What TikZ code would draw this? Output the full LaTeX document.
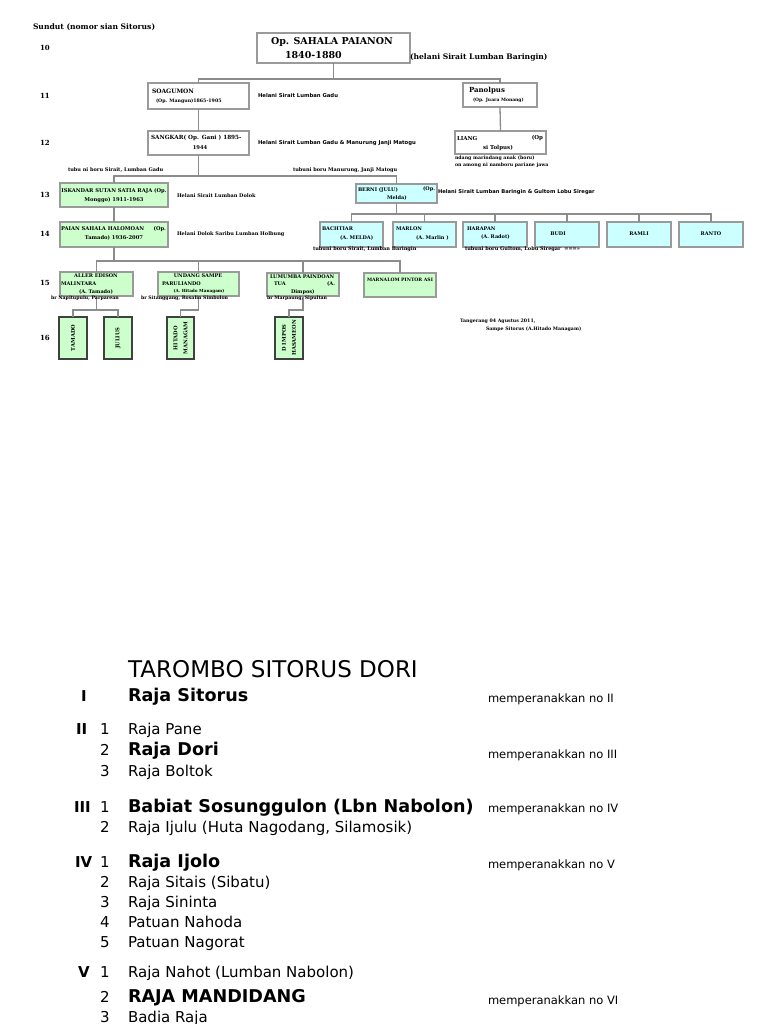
\documentclass[tikz,border=0pt]{standalone}
\usepackage{fontspec}
\setmainfont{DejaVu Serif}
\newfontfamily\lsans{DejaVu Sans}
\usetikzlibrary{calc}
\definecolor{bxgreen}{HTML}{CCFFCC}
\definecolor{bxcyan}{HTML}{CCFFFF}
\definecolor{bxline}{HTML}{9A9A9A}
\definecolor{cnline}{HTML}{8C8C8C}
\newcommand\fsz[1]{\fontsize{#1}{#1}\selectfont}
\begin{document}
\begin{tikzpicture}[x=1pt,y=-1pt,
  box/.style={draw=bxline, line width=1.4pt, inner sep=0pt, outer sep=0pt, anchor=north west, fill=white},
  gbox/.style={box, fill=bxgreen},
  cbox/.style={box, fill=bxcyan},
  vbox/.style={box, fill=bxgreen, draw=black!75, line width=1.3pt},
  conn/.style={draw=cnline, line width=1.3pt},
  t/.style={inner sep=0pt, outer sep=0pt, anchor=west, font=\bfseries\fsz{5}},
  tc/.style={t, anchor=center},
  tr/.style={t, anchor=east},
  hs/.style={t, font=\lsans\bfseries\fsz{5.3}},
  rn/.style={t, font=\bfseries\fsz{7}},
  lreg/.style={anchor=base west, inner sep=0pt, outer sep=0pt, font=\lsans\fsz{15}},
  lbold/.style={anchor=base west, inner sep=0pt, outer sep=0pt, font=\lsans\bfseries\fsz{17.6}},
  lrom/.style={anchor=base west, inner sep=0pt, outer sep=0pt, font=\lsans\bfseries\fsz{15}},
  lmem/.style={anchor=base west, inner sep=0pt, outer sep=0pt, font=\lsans\fsz{11.5}},
]
\useasboundingbox (0,0) rectangle (768,1024);

% ---------- header and generation numbers
\node[t, font=\bfseries\fsz{7.6}] (sundut) at (33,27) {Sundut (nomor sian Sitorus)};
\node[rn] (g10) at (40,48) {10};
\node[rn] (g11) at (40,96) {11};
\node[rn] (g12) at (40,143) {12};
\node[rn] (g13) at (40,195) {13};
\node[rn] (g14) at (40,234) {14};
\node[rn] (g15) at (40,283) {15};
\node[rn] (g16) at (40,338) {16};

% ---------- boxes
\node[box, minimum width=153pt, minimum height=30pt] (op) at (257,33) {};
\node[box, minimum width=101pt, minimum height=26pt] (soag) at (148,83) {};
\node[box, minimum width=74pt, minimum height=24pt] (pan) at (463,83) {};
\node[box, minimum width=101pt, minimum height=24pt] (sang) at (148,131) {};
\node[box, minimum width=91pt, minimum height=23pt] (liang) at (455,131) {};
\node[gbox, minimum width=108pt, minimum height=24pt] (isk) at (60,183) {};
\node[cbox, minimum width=81pt, minimum height=19pt] (berni) at (356,184) {};
\node[gbox, minimum width=108pt, minimum height=25pt] (paian) at (60,222) {};
\node[cbox, minimum width=63pt, minimum height=25pt] (bach) at (320,222) {};
\node[cbox, minimum width=63pt, minimum height=25pt] (marlon) at (393,222) {};
\node[cbox, minimum width=64pt, minimum height=25pt] (harapan) at (463,222) {};
\node[cbox, minimum width=64pt, minimum height=25pt] (budi) at (535,222) {};
\node[cbox, minimum width=64pt, minimum height=25pt] (ramli) at (607,222) {};
\node[cbox, minimum width=64pt, minimum height=25pt] (ranto) at (679,222) {};
\node[gbox, minimum width=73pt, minimum height=24pt] (aller) at (60,272) {};
\node[gbox, minimum width=81pt, minimum height=24pt] (undang) at (158,272) {};
\node[gbox, minimum width=72pt, minimum height=23pt] (lumumba) at (267,273) {};
\node[gbox, minimum width=72pt, minimum height=24pt] (marnalom) at (364,273) {};
\node[vbox, minimum width=28pt, minimum height=42pt] (tamado) at (59,317) {};
\node[vbox, minimum width=28pt, minimum height=42pt] (julius) at (104,317) {};
\node[vbox, minimum width=27pt, minimum height=42pt] (hitado) at (167,317) {};
\node[vbox, minimum width=28pt, minimum height=42pt] (dimpos) at (275,317) {};

% ---------- connectors
\coordinate (b10) at (338,79);
\draw[conn] (op.south) -- (op.south|-b10);
\draw[conn] (soag.north) |- (b10) -| (pan.north);
\draw[conn] (soag.south) -- (sang.north);
\draw[conn] (pan.south) -- (liang.north);
\coordinate (b12) at (203,176);
\draw[conn] (sang.south) -- (sang.south|-b12);
\draw[conn] (isk.north) |- (b12) -| (berni.north);
\draw[conn] (isk.south) -- (paian.north);
\coordinate (b14) at (396,214);
\draw[conn] (berni.south) -- (berni.south|-b14);
\draw[conn] (bach.north) |- (b14) -| (ranto.north);
\draw[conn] (marlon.north) -- (marlon.north|-b14);
\draw[conn] (harapan.north) -- (harapan.north|-b14);
\draw[conn] (budi.north) -- (budi.north|-b14);
\draw[conn] (ramli.north) -- (ramli.north|-b14);
\coordinate (b15) at (114,261);
\draw[conn] (paian.south) -- (paian.south|-b15);
\draw[conn] (aller.north) |- (b15) -| (marnalom.north);
\draw[conn] (undang.north) -- (undang.north|-b15);
\draw[conn] (lumumba.north) -- (lumumba.north|-b15);
\coordinate (b16) at (96,310);
\draw[conn] (aller.south) -- (aller.south|-b16);
\draw[conn] (tamado.north) |- (b16) -| (julius.north);
\draw[conn] (undang.south) -- ++(0,14) -| (hitado.north);
\draw[conn] (lumumba.south) -- ++(0,14) -| (dimpos.north);

% ---------- texts in and around boxes
\node[t, font=\bfseries\fsz{9.5}] (opt1) at (271,42) {Op. SAHALA PAIANON};
\node[t, font=\bfseries\fsz{9.5}] (opt2) at (285,55) {1840-1880};
\node[t, font=\bfseries\fsz{7.6}] (opw) at (410,57) {(helani Sirait Lumban Baringin)};

\node[t, font=\bfseries\fsz{6}] (soagt1) at (152,91) {SOAGUMON};
\node[t, font=\bfseries\fsz{4.7}] (soagt2) at (156,101) {(Op. Mangun)1865-1905};
\node[hs] (soagw) at (258,96) {Helani Sirait Lumban Gadu};

\node[t, font=\bfseries\fsz{7}] (pant1) at (469,91) {Panolpus};
\node[t, font=\bfseries\fsz{4.5}] (pant2) at (473,100) {(Op. Juara Monang)};

\node[t, font=\bfseries\fsz{5.7}] (sangt1) at (151,138) {SANGKAR( Op. Gani ) 1895-};
\node[tc, font=\bfseries\fsz{5.2}] (sangt2) at (200,148) {1944};
\node[hs] (sangw) at (258,143) {Helani Sirait Lumban Gadu \& Manurung Janji Matogu};

\node[t, font=\bfseries\fsz{5.5}] (liangt1) at (457,138) {LIANG};
\node[tr, font=\bfseries\fsz{5.5}] (liangt2) at (543,138) {(Op};
\node[t, font=\bfseries\fsz{5.5}] (liangt3) at (483,148) {si Tolpus)};
\node[t, font=\bfseries\fsz{4.7}] (liangn1) at (455,158) {ndang marindang anak (boru)};
\node[t, font=\bfseries\fsz{4.7}] (liangn2) at (455,165) {on among ni namboru pariane jawa};

\node[t] (tubu1) at (68,170) {tubu ni boru Sirait, Lumban Gadu};
\node[t] (tubu2) at (293,170) {tubuni boru Manurung, Janji Matogu};

\node[tc, font=\bfseries\fsz{5.2}] (iskt1) at (114,191) {ISKANDAR SUTAN SATIA RAJA (Op.};
\node[tc, font=\bfseries\fsz{5.2}] (iskt2) at (114,200) {Monggo) 1911-1963};
\node[t] (iskw) at (177,196) {Helani Sirait Lumban Dolok};

\node[t] (bernit1) at (358,190) {BERNI (JULU)};
\node[tr] (bernit2) at (435,189) {(Op.};
\node[t] (bernit3) at (387,198) {Melda)};
\node[hs, font=\lsans\bfseries\fsz{5.2}] (berniw) at (438,192) {Helani Sirait Lumban Baringin \& Gultom Lobu Siregar};

\node[t, font=\bfseries\fsz{5.2}] (paiant1) at (61,229) {PAIAN SAHALA HALOMOAN};
\node[tr, font=\bfseries\fsz{5.2}] (paiant2) at (166,229) {(Op.};
\node[tc, font=\bfseries\fsz{5.2}] (paiant3) at (114,238) {Tamado) 1936-2007};
\node[t] (paianw) at (177,234) {Helani Dolok Saribu Lumban Holbung};

\node[t] (bacht1) at (322,229) {BACHTIAR};
\node[t] (bacht2) at (340,238) {(A. MELDA)};
\node[t] (marlont1) at (396,229) {MARLON};
\node[t] (marlont2) at (416,238) {(A. Marlin )};
\node[t] (harapant1) at (467,229) {HARAPAN};
\node[t] (harapant2) at (481,237) {(A. Radot)};
\node[tc] (budit) at (558,234) {BUDI};
\node[tc] (ramlit) at (639,234) {RAMLI};
\node[tc] (rantot) at (711,234) {RANTO};
\node[t] (tubu3) at (313,249) {tubuni boru Sirait, Lumban Baringin};
\node[t] (tubu4) at (465,249) {tubuni boru Gultom, Lobu Siregar\ \ ===>>};

\node[tc] (allert1) at (96,276) {ALLER EDISON};
\node[t] (allert2) at (61,284) {MALINTARA};
\node[t] (allert3) at (79,292) {(A. Tamado)};
\node[tc] (undangt1) at (198,276) {UNDANG SAMPE};
\node[t] (undangt2) at (162,284) {PARULIANDO};
\node[tc, font=\bfseries\fsz{4.2}] (undangt3) at (199,291) {(A. Hitado Managam)};
\node[t] (lumt1) at (270,277) {LUMUMBA PAINDOAN};
\node[t] (lumt2) at (274,284) {TUA};
\node[t] (lumt3) at (327,284) {(A.};
\node[t] (lumt4) at (291,292) {Dimpos)};
\node[tc, font=\bfseries\fsz{4.6}] (marnt) at (400,280) {MARNALOM PINTOR ASI};
\node[t, font=\bfseries\fsz{4.7}] (br1) at (51,298) {br Napitupulu, Parparean};
\node[t, font=\bfseries\fsz{4.7}] (br2) at (141,298) {br Sitanggang, Rosalin Simbolon};
\node[t, font=\bfseries\fsz{4.7}] (br3) at (267,298) {br Marpaung, Sipultan};

\node[inner sep=0pt, rotate=90, font=\bfseries\fsz{5.2}] (tamadot) at (tamado.center) {TAMADO};
\node[inner sep=0pt, rotate=90, font=\bfseries\fsz{5.2}] (juliust) at (julius.center) {JULIUS};
\node[inner sep=0pt, rotate=90, align=center, font=\bfseries\fsz{5.2}] (hitadot) at (hitado.center) {HITADO\\[5pt]MANAGAM};
\node[inner sep=0pt, rotate=90, align=center, font=\bfseries\fsz{5.2}] (dimpost) at (dimpos.center) {D IMPOS\\[5pt]HASAMEON};

\node[t, font=\bfseries\fsz{4.7}] (sign1) at (460,321) {Tangerang 04 Agustus 2011,};
\node[t, font=\bfseries\fsz{4.7}] (sign2) at (486,329) {Sampe Sitorus (A.Hitado Managam)};

% ---------- tarombo list
\node[anchor=base west, inner sep=0pt, font=\lsans\fsz{23}] (title) at (128,677) {TAROMBO SITORUS DORI};

\node[lrom] (r1) at (81,701) {I};
\node[lbold] (n1) at (128,701) {Raja Sitorus};
\node[lmem] (m1) at (488,702) {memperanakkan no II};

\node[lrom] (r2) at (76,734) {II};
\node[lreg] (k21) at (100,734) {1};
\node[lreg] (n21) at (128,734) {Raja Pane};
\node[lreg] (k22) at (100,755) {2};
\node[lbold] (n22) at (128,755) {Raja Dori};
\node[lmem] (m2) at (488,758) {memperanakkan no III};
\node[lreg] (k23) at (100,776) {3};
\node[lreg] (n23) at (128,776) {Raja Boltok};

\node[lrom] (r3) at (74,812) {III};
\node[lreg] (k31) at (100,812) {1};
\node[lbold] (n31) at (128,812) {Babiat Sosunggulon (Lbn Nabolon)};
\node[lmem] (m3) at (488,812) {memperanakkan no IV};
\node[lreg] (k32) at (100,832) {2};
\node[lreg] (n32) at (128,832) {Raja Ijulu (Huta Nagodang, Silamosik)};

\node[lrom] (r4) at (75,867) {IV};
\node[lreg] (k41) at (100,867) {1};
\node[lbold] (n41) at (128,867) {Raja Ijolo};
\node[lmem] (m4) at (488,868) {memperanakkan no V};
\node[lreg] (k42) at (100,887) {2};
\node[lreg] (n42) at (128,887) {Raja Sitais (Sibatu)};
\node[lreg] (k43) at (100,907) {3};
\node[lreg] (n43) at (128,907) {Raja Sininta};
\node[lreg] (k44) at (100,927) {4};
\node[lreg] (n44) at (128,927) {Patuan Nahoda};
\node[lreg] (k45) at (100,947) {5};
\node[lreg] (n45) at (128,947) {Patuan Nagorat};

\node[lrom] (r5) at (78,977) {V};
\node[lreg] (k51) at (100,977) {1};
\node[lreg] (n51) at (128,977) {Raja Nahot (Lumban Nabolon)};
\node[lreg] (k52) at (100,1002) {2};
\node[lbold] (n52) at (128,1002) {RAJA MANDIDANG};
\node[lmem] (m5) at (488,1004) {memperanakkan no VI};
\node[lreg] (k53) at (100,1022) {3};
\node[lreg] (n53) at (128,1022) {Badia Raja};
\end{tikzpicture}
\end{document}
